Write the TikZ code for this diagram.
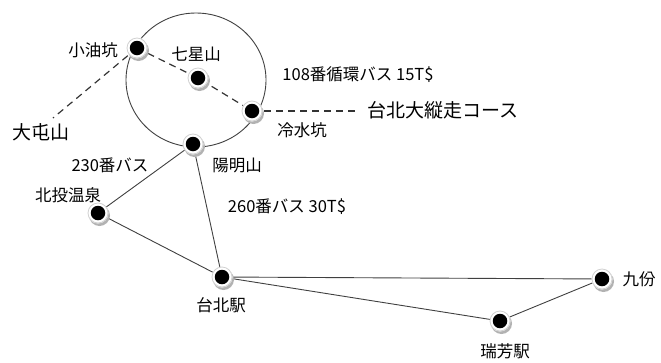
\documentclass[tikz,border=0pt]{standalone}
\usepackage{fontspec}
\setmainfont{Noto Sans CJK JP}
\usetikzlibrary{calc}
\begin{document}
\begin{tikzpicture}[x=1pt,y=-1pt,
  stop/.style={circle,fill=black,inner sep=0pt,minimum size=14.5pt},
  lbl/.style={font=\fontsize{16.5}{18}\selectfont,inner sep=0pt},
  biglbl/.style={font=\fontsize{19}{21}\selectfont,inner sep=0pt},
  conn/.style={draw=black!75,line width=0.9pt},
  dashconn/.style={draw=black!80,line width=1.2pt,dash pattern=on 7pt off 5pt}]
\useasboundingbox (0,0) rectangle (661,362);
\newcommand{\halo}[1]{%
  \fill[black!30] ($(#1)+(1.5,2.5)$) circle (10.5pt);
  \fill[white] (#1) circle (10.5pt);
  \draw[black!18,line width=0.8pt] (#1) circle (10pt);}
% coordinates of stops
\coordinate (xyk) at (137,48);
\coordinate (qxs) at (198,78);
\coordinate (lsk) at (252,111);
\coordinate (yms) at (193,144);
\coordinate (btw) at (98,213);
\coordinate (tbz) at (222,277);
\coordinate (jf) at (602,279);
\coordinate (rfz) at (500,321);
\coordinate (dtsend) at (53,118);
\coordinate (zzend) at (358,111);
% ring
\draw[black!75,line width=0.9pt] (196,80) ellipse (70pt and 67pt);
% connectors
\draw[conn] (yms) -- (btw);
\draw[conn] (yms) -- (tbz);
\draw[conn] (btw) -- (tbz);
\draw[conn] (tbz) -- (jf);
\draw[conn] (tbz) -- (rfz);
\draw[conn] (rfz) -- (jf);
\draw[dashconn] (xyk) -- (qxs) -- (lsk);
\draw[dashconn] (lsk) -- (zzend);
\draw[dashconn] (xyk) -- (dtsend);
% stops
\foreach \p in {xyk,qxs,lsk,yms,btw,tbz,jf,rfz}{\halo{\p}}
\node[stop] (nxyk) at (xyk) {};
\node[stop] (nqxs) at (qxs) {};
\node[stop] (nlsk) at (lsk) {};
\node[stop] (nyms) at (yms) {};
\node[stop] (nbtw) at (btw) {};
\node[stop] (ntbz) at (tbz) {};
\node[stop] (njf) at (jf) {};
\node[stop] (nrfz) at (rfz) {};
% labels
\node[lbl] (l1) at (93,50) {小油坑};
\node[lbl] (l2) at (196,54) {七星山};
\node[lbl] (l3) at (358,75) {108番循環バス 15T\$};
\node[biglbl] (l4) at (443,110) {台北大縦走コース};
\node[lbl] (l5) at (302,130) {冷水坑};
\node[lbl] (l6) at (237,165) {陽明山};
\node[lbl] (l7) at (287,207) {260番バス 30T\$};
\node[lbl] (l8) at (110,165) {230番バス};
\node[biglbl] (l9) at (41,132) {大屯山};
\node[lbl] (l10) at (68,195) {北投温泉};
\node[lbl] (l11) at (221,305) {台北駅};
\node[lbl] (l12) at (505,351) {瑞芳駅};
\node[lbl] (l13) at (639,279) {九份};
\end{tikzpicture}
\end{document}
